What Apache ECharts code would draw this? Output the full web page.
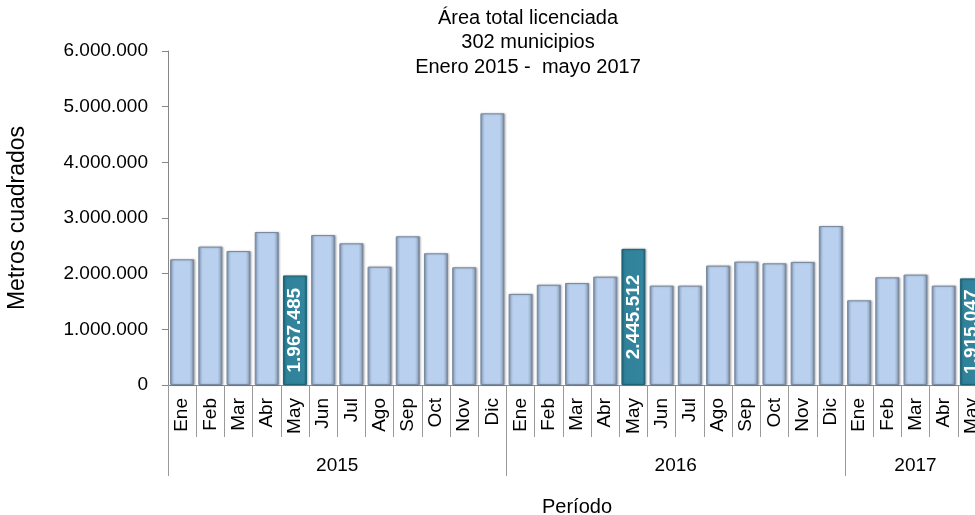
<!DOCTYPE html>
<html>
<head>
<meta charset="utf-8">
<script src="https://cdn.jsdelivr.net/npm/echarts@6/dist/echarts.min.js"></script>
<style>
html,body{margin:0;padding:0;background:#fff;}
#c{width:975px;height:515px;}
</style>
</head>
<body>
<div id="c"></div>
<script>
const titleLines = ['Área total licenciada', '302 municipios', 'Enero 2015 -  mayo 2017'];
const months = ['Ene','Feb','Mar','Abr','May','Jun','Jul','Ago','Sep','Oct','Nov','Dic',
                'Ene','Feb','Mar','Abr','May','Jun','Jul','Ago','Sep','Oct','Nov','Dic',
                'Ene','Feb','Mar','Abr','May'];
const values = [2258000, 2485000, 2407000, 2748000, 1967485, 2694000, 2545000, 2125000, 2671000, 2366000, 2114000, 4880000,
                1635000, 1800000, 1832000, 1946000, 2445512, 1784000, 1784000, 2144000, 2216000, 2186000, 2210000, 2856000,
                1521000, 1934000, 1982000, 1784000, 1915047];
const years = ['2015', '2016', '2017'];
const yearCounts = [12, 12, 5];
const yTicks = [0, 1000000, 2000000, 3000000, 4000000, 5000000, 6000000];
const highlightMonth = 'May';

function fmt(v) { return String(Math.round(v)).replace(/\B(?=(\d{3})+(?!\d))/g, '.'); }

const boundaries = [0];
yearCounts.forEach(c => boundaries.push(boundaries[boundaries.length - 1] + c));
const yearCenters = yearCounts.map((c, i) => boundaries[i] + c / 2);

const lightGrad = new echarts.graphic.LinearGradient(0, 0, 1, 0, [
  {offset: 0, color: '#7f93ae'}, {offset: 0.1, color: '#a9c1e1'}, {offset: 0.2, color: '#b9d1ef'},
  {offset: 0.8, color: '#b9d1ef'}, {offset: 0.9, color: '#a0b4cf'}, {offset: 1, color: '#66778c'}
]);
const tealGrad = new echarts.graphic.LinearGradient(0, 0, 1, 0, [
  {offset: 0, color: '#1d6a80'}, {offset: 0.12, color: '#2f8299'}, {offset: 0.88, color: '#32859c'},
  {offset: 1, color: '#17566a'}
]);

const seriesData = values.map((v, i) => {
  const hl = months[i] === highlightMonth;
  return {
    value: v,
    itemStyle: {
      color: hl ? tealGrad : lightGrad, borderColor: hl ? '#1f6476' : '#7a8aa0', borderWidth: 1,
      shadowColor: 'rgba(0,0,0,0.25)', shadowBlur: 2, shadowOffsetX: 1, shadowOffsetY: 0
    },
    label: hl ? {
      show: true, position: 'inside', rotate: 90, color: '#ffffff', fontWeight: 'bold',
      fontFamily: 'Liberation Sans, Arial, sans-serif', fontSize: 19,
      formatter: p => fmt(p.value)
    } : { show: false }
  };
});

const chart = echarts.init(document.getElementById('c'), null, {renderer: 'canvas'});
chart.setOption({
  animation: false,
  backgroundColor: '#ffffff',
  textStyle: { fontFamily: 'Liberation Sans, Arial, sans-serif' },
  title: {
    text: titleLines.join('\n'),
    left: 528, top: 6, padding: 0, textAlign: 'center',
    textStyle: { fontSize: 20, fontWeight: 'normal', color: '#000', lineHeight: 24.5, fontFamily: 'Liberation Sans, Arial, sans-serif' }
  },
  grid: { left: 168, right: -11, top: 51, bottom: 130, containLabel: false, outerBoundsMode: 'none' },
  xAxis: [{
    type: 'category', data: months, position: 'bottom',
    axisLine: { show: true, lineStyle: { color: '#868686', width: 1 } },
    axisTick: { show: true, interval: 0, length: 52, lineStyle: { color: '#9a9a9a' } },
    axisLabel: { interval: 0, rotate: 90, margin: 13, fontSize: 19, color: '#000', fontFamily: 'Liberation Sans, Arial, sans-serif' },
    splitLine: { show: false }
  }, {
    type: 'value', position: 'bottom', min: 0, max: boundaries[boundaries.length - 1],
    name: 'Período', nameLocation: 'middle', nameGap: 112,
    nameTextStyle: { fontSize: 20, color: '#000', fontFamily: 'Liberation Sans, Arial, sans-serif' },
    axisLine: { show: false },
    axisTick: { show: true, length: 91, customValues: boundaries, lineStyle: { color: '#9a9a9a' } },
    axisLabel: { show: true, customValues: yearCenters, margin: 71, fontSize: 19, color: '#000',
      fontFamily: 'Liberation Sans, Arial, sans-serif',
      formatter: v => { const i = yearCenters.indexOf(v); return i >= 0 ? years[i] : ''; } },
    splitLine: { show: false }
  }],
  yAxis: {
    type: 'value', min: yTicks[0], max: yTicks[yTicks.length - 1], interval: yTicks[1] - yTicks[0],
    name: 'Metros cuadrados', nameLocation: 'middle', nameGap: 139,
    nameTextStyle: { fontSize: 23, color: '#000', fontFamily: 'Liberation Sans, Arial, sans-serif' },
    axisLine: { show: true, lineStyle: { color: '#868686' } },
    axisTick: { show: true, length: 6, lineStyle: { color: '#868686' } },
    axisLabel: { margin: 20, fontSize: 19, color: '#000', formatter: v => fmt(v), fontFamily: 'Liberation Sans, Arial, sans-serif' },
    splitLine: { show: false }
  },
  series: [{
    type: 'bar', xAxisIndex: 0, yAxisIndex: 0, data: seriesData, barCategoryGap: '15%'
  }]
});
</script>
</body>
</html>
